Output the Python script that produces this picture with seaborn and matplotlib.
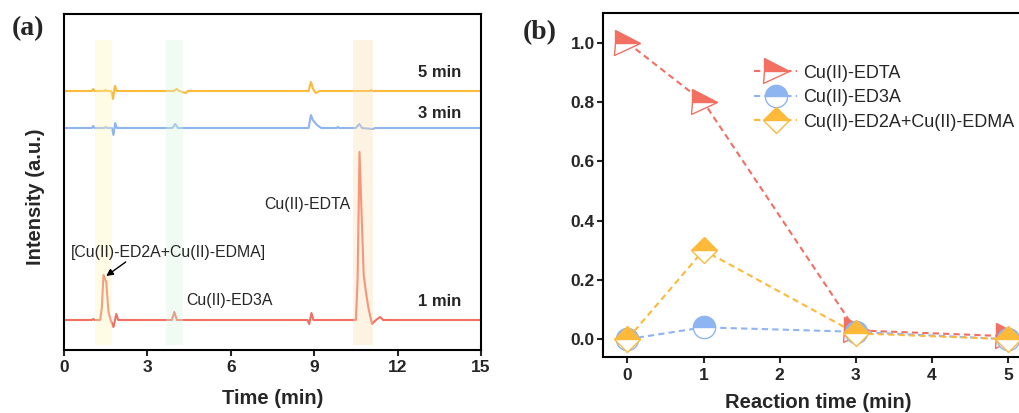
import numpy as np
import pandas as pd
import matplotlib.pyplot as plt
import seaborn as sns

sns.set_style('ticks')
plt.rcParams['font.family'] = ['Liberation Sans', 'DejaVu Sans']

# ---- panel (a): chromatogram key points (time in min, height in a.u.) ----
t_1min = [0, 1.0, 1.05, 1.1, 1.3, 1.36, 1.42, 1.52, 1.6, 1.68, 1.78, 1.88, 1.95,
          3.88, 3.97, 4.06, 8.76, 8.82, 8.9, 8.97, 10.5, 10.56, 10.63, 10.7,
          10.78, 10.86, 10.95, 11.08, 11.22, 11.37, 11.48, 15]
v_1min = [0, 0, 1, 0, 0, 12, 45, 38, 8, 0, -7, 6, 0,
          0, 8, 0, 0, -4, 7, 0, 0, 40, 168, 110,
          45, 28, 12, -4, 0, 3, 0, 0]

t_3min = [0, 1.0, 1.05, 1.1, 1.45, 1.5, 1.55, 1.72, 1.78, 1.84, 1.9, 3.9, 4.0,
          4.1, 8.8, 8.88, 8.95, 9.1, 9.25, 9.8, 9.85, 9.9, 10.5, 10.62, 10.72, 11.1, 11.2, 15]
v_3min = [0, 0, 2, 0, 0, 1, 0, 0, -7, 5, 0, 0, 4,
          0, 0, 13, 8, 3, 0, 0, 1, 0, 0, 4, 0, -1, 0, 0]

t_5min = [0, 1.0, 1.05, 1.1, 1.45, 1.5, 1.55, 1.7, 1.76, 1.83, 1.9, 3.95, 4.05,
          4.15, 4.38, 4.45, 8.8, 8.88, 8.96, 9.05, 9.2, 11.0, 11.05, 11.1, 15]
v_5min = [0, 0, 2, 0, 0, 1, 0, 0, -8, 5, 0, 0, 2,
          0, -2, 0, 0, 9, 2, -2, 0, 0, 1, 0, 0]

trace_labels = ['1 min', '3 min', '5 min']

# ---- panel (b): relative concentration ----
reaction_time = [0, 1, 3, 5]
edta = [1.0, 0.80, 0.03, 0.01]
ed3a = [0.0, 0.04, 0.025, 0.0]
ed2a = [0.0, 0.30, 0.02, 0.0]
series_names = ['Cu(II)-EDTA', 'Cu(II)-ED3A', 'Cu(II)-ED2A+Cu(II)-EDMA']

red = '#F26F62'
blue = '#8FB4F2'
orange = '#FDB93A'

fig = plt.figure(figsize=(10.19, 4.13), dpi=100)
W, H = 1019, 413
ax1 = fig.add_axes([64 / W, (H - 350) / H, (481 - 64) / W, (350 - 14) / H])
ax2 = fig.add_axes([603 / W, (H - 357) / H, 428 / W, (357 - 13) / H])

# ---- (a) ----
offsets = [0, 192, 229]
colors_a = [red, blue, orange]
for (t, v), off, c in zip([(t_1min, v_1min), (t_3min, v_3min), (t_5min, v_5min)],
                          offsets, colors_a):
    sns.lineplot(x=t, y=np.array(v) + off, ax=ax1, color=c, lw=1.5,
                 sort=False, estimator=None)

ax1.axvspan(1.1, 1.72, ymin=0.015, ymax=0.923, color='#FFF9B8', alpha=0.35, lw=0, zorder=3)
ax1.axvspan(3.67, 4.29, ymin=0.015, ymax=0.923, color='#D4F9DD', alpha=0.35, lw=0, zorder=3)
ax1.axvspan(10.38, 11.1, ymin=0.015, ymax=0.923, color='#FCDDAF', alpha=0.35, lw=0, zorder=3)

ax1.set_xlim(0, 15)
ax1.set_ylim(-30, 306)
ax1.set_xticks([0, 3, 6, 9, 12, 15])
ax1.set_yticks([])
ax1.tick_params(axis='x', direction='out', length=4.5, width=1.5, pad=3,
                labelsize=12.5)
for lab in ax1.get_xticklabels():
    lab.set_fontweight('bold')
ax1.set_xlabel('Time (min)', fontsize=14.5, fontweight='bold')
ax1.set_ylabel('Intensity (a.u.)', fontsize=14.5, fontweight='bold')
ax1.xaxis.set_label_coords(0.5, -0.115)
ax1.yaxis.set_label_coords(-0.046, 0.455)

for lab, ty in zip(trace_labels, [18, 206, 247]):
    ax1.text(14.3, ty, lab, ha='right', va='center', fontsize=12, fontweight='bold')
ax1.text(0.24, 67, '[Cu(II)-ED2A+Cu(II)-EDMA]', ha='left', va='center', fontsize=11.4)
ax1.text(4.39, 19, 'Cu(II)-ED3A', ha='left', va='center', fontsize=11.4)
ax1.text(7.19, 115, 'Cu(II)-EDTA', ha='left', va='center', fontsize=11.4)
ax1.annotate('', xy=(1.52, 44), xytext=(2.22, 58),
             arrowprops=dict(arrowstyle='-|>', color='black', lw=1.0,
                             mutation_scale=10, shrinkA=0, shrinkB=0))

# ---- (b) ----
specs = [(edta, red, '>', 18, 2), (ed3a, blue, 'o', 16, 3), (ed2a, orange, 'D', 13.5, 4)]
for (vals, c, m, ms, z), name in zip(specs, series_names):
    sns.lineplot(x=reaction_time, y=vals, ax=ax2, color=c, lw=1.5,
                 ls=(0, (3, 2)), marker=m, ms=ms, fillstyle='top',
                 markerfacecolor=c, markerfacecoloralt='white',
                 markeredgecolor=c, markeredgewidth=1.0,
                 label=name, zorder=z, sort=False, estimator=None)

ax2.set_xlim(-0.32, 5.3)
ax2.set_ylim(-0.06, 1.1)
ax2.set_xticks([0, 1, 2, 3, 4, 5])
ax2.set_yticks([0.0, 0.2, 0.4, 0.6, 0.8, 1.0])
ax2.set_yticklabels(['0.0', '0.2', '0.4', '0.6', '0.8', '1.0'])
ax2.tick_params(direction='out', length=4.5, width=1.5, labelsize=12.5)
ax2.tick_params(axis='y', pad=1.5)
for lab in ax2.get_xticklabels() + ax2.get_yticklabels():
    lab.set_fontweight('bold')
ax2.set_xlabel('Reaction time (min)', fontsize=14.5, fontweight='bold')
ax2.xaxis.set_label_coords(0.502, -0.105)
ax2.legend(loc='upper left', bbox_to_anchor=(0.353, 0.85), frameon=False,
           fontsize=13, handlelength=2.4, handletextpad=0.3,
           labelspacing=0.42, borderpad=0, borderaxespad=0, numpoints=1)

for ax in (ax1, ax2):
    for s in ax.spines.values():
        s.set_linewidth(1.5)
        s.set_visible(True)
        s.set_color('black')

fig.text(12 / W, 1 - 29 / H, '(a)', family='Liberation Serif', fontweight='bold',
         fontsize=20, ha='left', va='center')
fig.text(523 / W, 1 - 33 / H, '(b)', family='Liberation Serif', fontweight='bold',
         fontsize=20, ha='left', va='center')

fig.savefig('out.png', dpi=100)
